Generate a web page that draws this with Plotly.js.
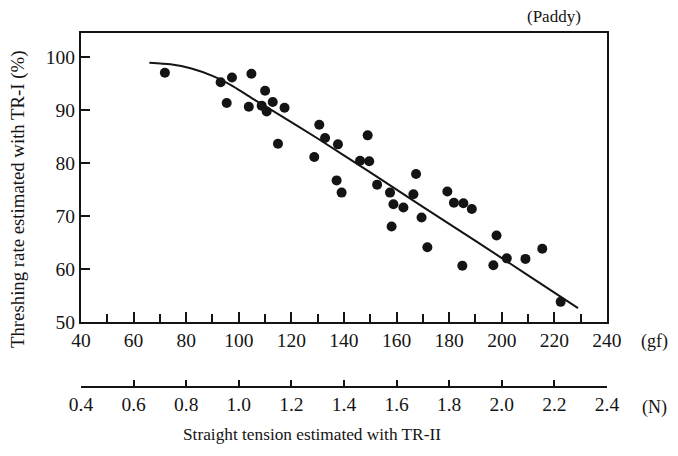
<!DOCTYPE html>
<html>
<head>
<meta charset="utf-8">
<script src="https://cdn.plot.ly/plotly-3.0.1.min.js"></script>
<style>html,body{margin:0;padding:0;background:#fff;}#chart{width:678px;height:456px;}</style>
</head>
<body>
<div id="chart"></div>
<script>
// Straight tension (gf) of each observation
const tensionGf = [71.9, 93.1, 97.4, 104.8, 95.4, 103.8, 110.0, 108.7, 112.9, 110.6,
  117.4, 114.9, 130.6, 132.8, 137.7, 128.7, 149.0, 146.1, 149.6, 137.2,
  139.1, 152.6, 167.4, 157.5, 158.8, 162.6, 166.4, 158.1, 169.5, 171.7,
  179.3, 181.8, 185.4, 188.6, 185.0, 198.0, 196.8, 201.9, 209.0, 215.4, 222.4];
// Threshing rate (%) of each observation
const threshingRate = [97.0, 95.2, 96.1, 96.8, 91.3, 90.6, 93.6, 90.8, 91.5, 89.7,
  90.4, 83.6, 87.2, 84.7, 83.5, 81.1, 85.2, 80.4, 80.3, 76.7,
  74.4, 75.9, 77.9, 74.4, 72.2, 71.6, 74.1, 68.0, 69.7, 64.1,
  74.6, 72.5, 72.4, 71.3, 60.6, 66.3, 60.7, 62.0, 61.9, 63.8, 53.8];
// Fitted curve
const curveX = [66, 74, 82, 90, 98, 106, 115, 130, 150, 170, 190, 210, 229];
const curveY = [98.9, 98.6, 97.8, 96.4, 94.4, 91.9, 89.2, 84.6, 78.2, 71.7, 65.3, 58.8, 52.6];
// Tick labels
const gfTicks = [40, 60, 80, 100, 120, 140, 160, 180, 200, 220, 240];
const nTicks = [0.4, 0.6, 0.8, 1.0, 1.2, 1.4, 1.6, 1.8, 2.0, 2.2, 2.4];
const nTickText = ['0.4', '0.6', '0.8', '1.0', '1.2', '1.4', '1.6', '1.8', '2.0', '2.2', '2.4'];
const rateTicks = [50, 60, 70, 80, 90, 100];

const FONT = 'Liberation Serif, Times New Roman, serif';
const INK = '#141414';

const traces = [
  {x: curveX, y: curveY, type: 'scatter', mode: 'lines', line: {color: INK, width: 2, shape: 'spline', smoothing: 0.6}, hoverinfo: 'skip', showlegend: false},
  {x: tensionGf, y: threshingRate, type: 'scatter', mode: 'markers', marker: {color: INK, size: 10, line: {width: 0}}, showlegend: false},
  {x: [0.4, 2.4], y: [null, null], xaxis: 'x2', yaxis: 'y', type: 'scatter', mode: 'markers', showlegend: false, hoverinfo: 'skip'}
];

const layout = {
  width: 678, height: 456,
  margin: {l: 81, r: 61, t: 33, b: 64},
  paper_bgcolor: '#fff', plot_bgcolor: '#fff',
  font: {family: FONT, color: INK, size: 19},
  showlegend: false,
  xaxis: {
    domain: [0, 0.9813], range: [40, 240], tickvals: gfTicks, ticktext: gfTicks.map(String),
    showgrid: false, zeroline: false, showline: true, linecolor: INK, linewidth: 2, mirror: true,
    ticks: 'inside', ticklen: 10, tickwidth: 2, tickcolor: INK,
    minor: {tickvals: [50, 70, 90, 110, 130, 150, 170, 190, 210, 230], ticks: 'inside', ticklen: 8, tickwidth: 2, tickcolor: INK},
    tickfont: {family: FONT, size: 19.5, color: INK}, fixedrange: true
  },
  xaxis2: {
    domain: [0.0037, 1], range: [0.4, 2.4], anchor: 'free', overlaying: 'x', position: 0.0139, side: 'bottom',
    tickvals: nTicks, ticktext: nTickText,
    showgrid: false, zeroline: false, showline: true, linecolor: INK, linewidth: 2,
    ticks: 'inside', ticklen: 6, tickwidth: 2, tickcolor: INK,
    tickfont: {family: FONT, size: 19.5, color: INK}, fixedrange: true
  },
  yaxis: {
    domain: [0.195, 1], range: [50, 104.5], tickvals: rateTicks,
    showgrid: false, zeroline: false, showline: true, linecolor: INK, linewidth: 2, mirror: true,
    ticks: 'inside', ticklen: 9, tickwidth: 2, tickcolor: INK,
    tickfont: {family: FONT, size: 19.5, color: INK}, fixedrange: true
  },
  annotations: [
    {text: '(Paddy)', showarrow: false, font: {family: FONT, size: 17, color: INK}},
    {text: '(gf)', showarrow: false, font: {family: FONT, size: 18, color: INK}},
    {text: '(N)', showarrow: false, font: {family: FONT, size: 18, color: INK}},
    {text: 'Straight tension estimated with TR-II', showarrow: false, font: {family: FONT, size: 17.3, color: INK}},
    {text: 'Threshing rate estimated with TR-I (%)', showarrow: false, textangle: -90, font: {family: FONT, size: 18.8, color: INK}}
  ]
};

// Convert pixel anchors to paper coordinates for the annotations
const W = 678 - 81 - 61, H = 456 - 33 - 64;
function px(xp) { return (xp - 81) / W; }
function py(yp) { return (456 - 64 - yp) / H; }
const annPos = [[554, 16], [654, 341], [654, 407], [312, 434], [18, 200]];
layout.annotations.forEach((a, i) => {
  a.xref = 'paper'; a.yref = 'paper';
  a.x = px(annPos[i][0]); a.y = py(annPos[i][1]);
  a.xanchor = 'center'; a.yanchor = 'middle';
});

Plotly.newPlot('chart', traces, layout, {displayModeBar: false, staticPlot: true});
</script>
</body>
</html>
